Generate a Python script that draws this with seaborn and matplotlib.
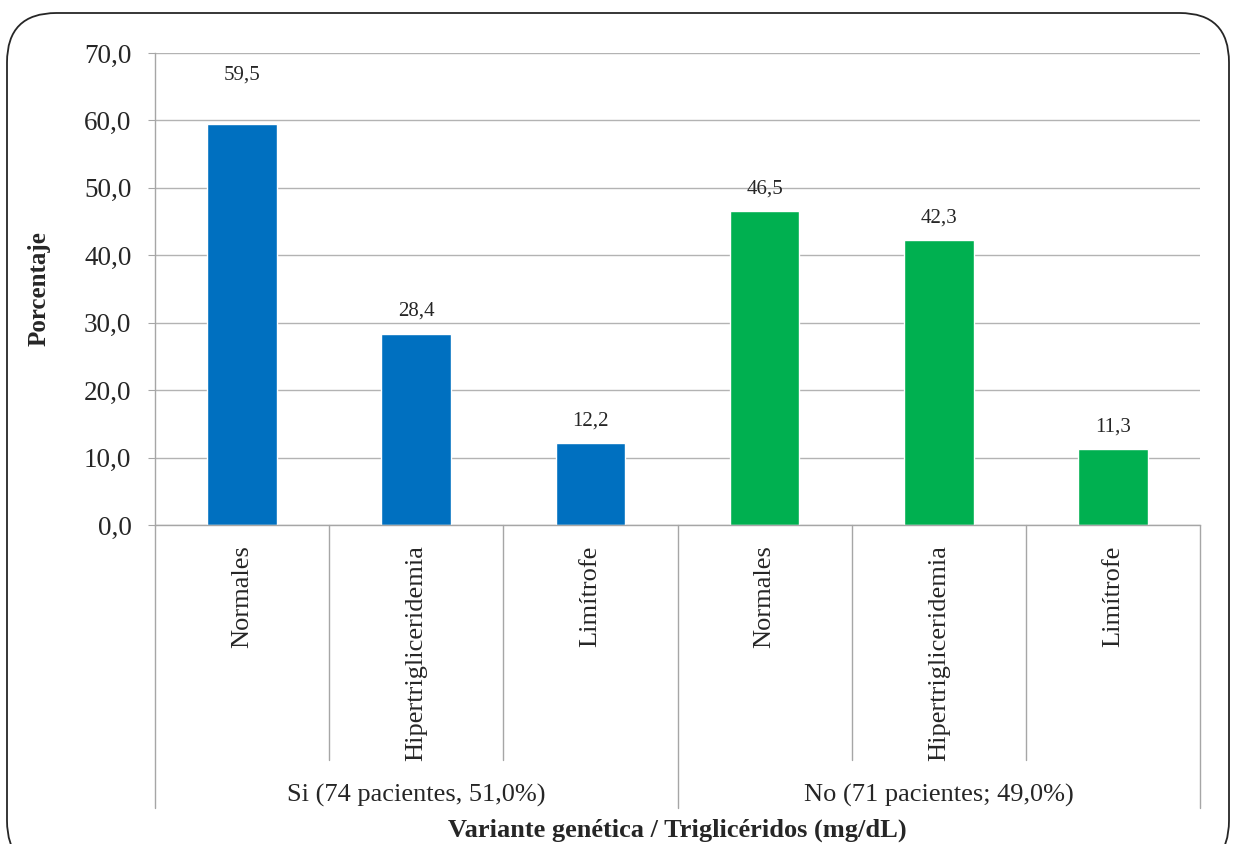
import matplotlib
matplotlib.use("Agg")
import matplotlib.pyplot as plt
from matplotlib.patches import FancyBboxPatch
import matplotlib.transforms as mtransforms
import pandas as pd
import seaborn as sns

# data
grupos = ["Si (74 pacientes, 51,0%)", "No (71 pacientes; 49,0%)"]
subcategorias = ["Normales", "Hipertrigliceridemia", "Limítrofe"]
valores_si = [59.5, 28.4, 12.2]
valores_no = [46.5, 42.3, 11.3]
colores = ["#0070C0", "#00B050"]

rows = []
for g, vals in zip(grupos, [valores_si, valores_no]):
    for s, v in zip(subcategorias, vals):
        rows.append({"clave": g + "|" + s, "grupo": g, "sub": s, "valor": v})
df = pd.DataFrame(rows)

sns.set_style("white")
plt.rcParams["font.family"] = ["Liberation Serif", "DejaVu Serif"]

fig = plt.figure(figsize=(12.33, 8.44), dpi=100)
W, H = 1233, 844
ax = fig.add_axes([155 / W, 1 - 525 / H, 1045 / W, 472 / H])

sns.barplot(data=df, x="clave", y="valor", hue="grupo", order=df["clave"].tolist(),
            hue_order=grupos, palette=colores, dodge=False, width=0.4,
            legend=False, ax=ax, saturation=1)

ax.set_ylim(0, 70)
ax.set_xlim(-0.5, len(df) - 0.5)
ax.set_yticks(range(0, 71, 10))
ax.set_yticklabels([f"{v:.1f}".replace(".", ",") for v in range(0, 71, 10)], fontsize=19.5)
ax.yaxis.grid(True, color="#b3b3b3", linewidth=1)
ax.set_axisbelow(True)
for side in ["top", "right"]:
    ax.spines[side].set_visible(False)
for side in ["left", "bottom"]:
    ax.spines[side].set_color("#a6a6a6")
    ax.spines[side].set_linewidth(1)
ax.tick_params(axis="y", left=True, length=5, color="#a6a6a6", pad=12)
ax.tick_params(axis="x", bottom=False, pad=11)
ax.set_xticks(range(len(df)))
ax.set_xticklabels(df["sub"].tolist(), rotation=90, fontsize=19)

# data labels (the tallest one sits higher, clear of the 60 gridline)
for p, v in zip(ax.patches, df["valor"]):
    off = 28 if v == max(df["valor"]) else 9
    ax.annotate(f"{v:.1f}".replace(".", ","), (p.get_x() + p.get_width() / 2, v),
                xytext=(0, off), textcoords="offset points", ha="center",
                va="bottom", fontsize=15)

# multi-level category axis lines
trans = mtransforms.blended_transform_factory(ax.transData, ax.transAxes)
n = len(subcategorias)
for k in range(len(df) + 1):
    x = k - 0.5
    bottom = -0.6 if k % n == 0 else -0.498
    ax.plot([x, x], [0, bottom], transform=trans, color="#a6a6a6",
            linewidth=1, clip_on=False)
for gi, g in enumerate(grupos):
    ax.text(gi * n + (n - 1) / 2, -0.572, g, transform=trans, ha="center",
            va="center", fontsize=19)

ax.set_xlabel("")
ax.text(0.5, -0.647, "Variante genética / Triglicéridos (mg/dL)", transform=ax.transAxes,
        ha="center", va="center", fontsize=19, fontweight="bold")
ax.set_ylabel("Porcentaje", fontsize=18, fontweight="bold")
ax.yaxis.set_label_coords(-0.1, 0.5)

# rounded outer border
box = FancyBboxPatch((7 / W, 1 - 870 / H), 1222 / W, 857 / H,
                     boxstyle="round,pad=0,rounding_size=0.04",
                     transform=fig.transFigure, fill=False,
                     edgecolor="#262626", linewidth=1.3, clip_on=False,
                     mutation_aspect=W / H)
fig.patches.append(box)

fig.savefig("out.png", dpi=100)
